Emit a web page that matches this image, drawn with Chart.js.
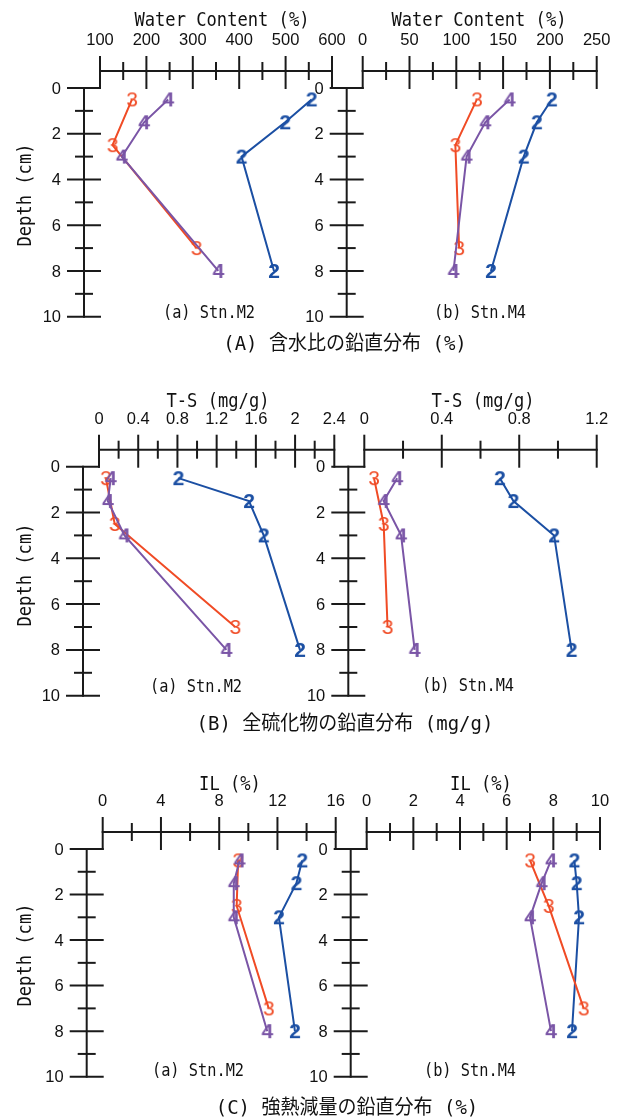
<!DOCTYPE html>
<html>
<head>
<meta charset="utf-8">
<script src="https://cdn.jsdelivr.net/npm/chart.js@4.4.1/dist/chart.umd.min.js"></script>
<style>
  html, body { margin: 0; padding: 0; background: #fff; }
  #page { position: relative; width: 622px; height: 1120px; overflow: hidden; background: #fff; }
  #page canvas { position: absolute; left: 0; top: 0; }
  .lbl { position: absolute; transform: translate(-50%, -50%); white-space: nowrap; color: #111;
         font-family: "DejaVu Sans Mono", "Noto Sans CJK JP", monospace; line-height: 1; }
  .axt { font-size: 19px; transform: translate(-50%, -50%) scaleX(0.9); }
  .cap { font-size: 18px; transform: translate(-50%, -50%) scaleX(0.85); }
  .row { font-size: 20px; transform: translate(-50%, -50%) scaleX(0.95); }
  .ytl { transform: translate(-50%, -50%) rotate(-90deg) scaleX(0.9); }
</style>
</head>
<body>
<div id="page"></div>
<script>
// Sampling depths (cm): stations 2 and 4 share one set, station 3 has its own
const depthMain = [0.5, 1.5, 3, 8];
const depthSt3 = [0.5, 2.5, 7];

// Water content (%)
const wcM2_st2 = [556, 499, 405, 475];
const wcM2_st3 = [169, 127, 308];
const wcM2_st4 = [247, 195, 147, 355];
const wcM4_st2 = [202, 186, 172, 137];
const wcM4_st3 = [122, 99, 103];
const wcM4_st4 = [157, 131, 111, 97];

// Total sulfide T-S (mg/g)
const tsM2_st2 = [0.81, 1.53, 1.68, 2.05];
const tsM2_st3 = [0.07, 0.16, 1.39];
const tsM2_st4 = [0.12, 0.09, 0.26, 1.30];
const tsM4_st2 = [0.70, 0.77, 0.98, 1.07];
const tsM4_st3 = [0.05, 0.10, 0.12];
const tsM4_st4 = [0.17, 0.10, 0.19, 0.26];

// Ignition loss IL (%)
const ilM2_st2 = [13.7, 13.3, 12.1, 13.2];
const ilM2_st3 = [9.3, 9.2, 11.4];
const ilM2_st4 = [9.4, 9.0, 9.0, 11.3];
const ilM4_st2 = [8.9, 9.0, 9.1, 8.8];
const ilM4_st3 = [7.0, 7.8, 9.3];
const ilM4_st4 = [7.9, 7.5, 7.0, 7.9];

// Tick labels
const wcM2Ticks = ['100', '200', '300', '400', '500', '600'];
const wcM4Ticks = ['0', '50', '100', '150', '200', '250'];
const tsM2Ticks = ['0', '0.4', '0.8', '1.2', '1.6', '2', '2.4'];
const tsM4Ticks = ['0', '0.4', '0.8', '1.2'];
const ilM2Ticks = ['0', '4', '8', '12', '16'];
const ilM4Ticks = ['0', '2', '4', '6', '8', '10'];
const depthTicks = ['0', '2', '4', '6', '8', '10'];

const stationColors = { '2': '#1b4fa3', '3': '#f04b25', '4': '#7a55a6' };

const W = 622, H = 1120;
const page = document.getElementById('page');

// Digit glyph used as the point marker of each station
function digitMarker(ch, color, weight) {
  const c = document.createElement('canvas');
  c.width = 18; c.height = 24;
  const g = c.getContext('2d');
  g.font = weight + ' 21px "Liberation Sans", Arial, sans-serif';
  g.fillStyle = color;
  g.textAlign = 'center';
  g.textBaseline = 'middle';
  g.fillText(ch, 9, 13);
  return c;
}
const markers = {
  '2': digitMarker('2', stationColors['2'], 'bold'),
  '3': digitMarker('3', stationColors['3'], 'normal'),
  '4': digitMarker('4', stationColors['4'], 'bold')
};

// Axes drawn offset from the plot: value axis on top, depth axis on the left,
// with ticks crossing the axis lines
const panelAxes = {
  id: 'panelAxes',
  afterDraw(chart) {
    const o = chart.options.plugins.panelAxes;
    const { ctx, chartArea: a, scales } = chart;
    const xs = scales.x, ys = scales.y;
    const ax = a.top - 17;    // y position of the value axis line
    const ay = a.left - 16;   // x position of the depth axis line
    ctx.save();
    ctx.strokeStyle = '#1a1a1a';
    ctx.lineWidth = 2;
    ctx.lineCap = 'square';
    const seg = (x1, y1, x2, y2) => { ctx.beginPath(); ctx.moveTo(x1, y1); ctx.lineTo(x2, y2); ctx.stroke(); };

    // value axis
    seg(a.left, ax, a.right, ax);
    const xv = o.xTicks.map(Number);
    xv.forEach(v => { const p = xs.getPixelForValue(v); seg(p, ax - 14, p, a.top); });
    for (let i = 0; i < xv.length - 1; i++) {
      const p = xs.getPixelForValue((xv[i] + xv[i + 1]) / 2);
      seg(p, ax - 8, p, ax + 8);
    }

    // depth axis
    seg(ay, a.top, ay, a.bottom);
    const yv = depthTicks.map(Number);
    yv.forEach(v => { const p = ys.getPixelForValue(v); seg(ay - 16, p, a.left, p); });
    for (let i = 0; i < yv.length - 1; i++) {
      const p = ys.getPixelForValue((yv[i] + yv[i + 1]) / 2);
      seg(ay - 8, p, ay + 8, p);
    }

    // tick labels
    ctx.fillStyle = '#111';
    ctx.font = '16.5px "Liberation Sans", Arial, sans-serif';
    ctx.textBaseline = 'middle';
    ctx.textAlign = 'center';
    o.xTicks.forEach(t => ctx.fillText(t, xs.getPixelForValue(Number(t)), ax - 30.5));
    ctx.textAlign = 'right';
    depthTicks.forEach(t => ctx.fillText(t, ay - 23, ys.getPixelForValue(Number(t)) + 1));
    ctx.restore();
  }
};

const panels = [
  { L: 100,   R: 332,   T: 88,    B: 316.7,  min: 100, max: 600, ticks: wcM2Ticks, data: { '2': wcM2_st2, '3': wcM2_st3, '4': wcM2_st4 } },
  { L: 362.7, R: 596.7, T: 88,    B: 316.7,  min: 0,   max: 250, ticks: wcM4Ticks, data: { '2': wcM4_st2, '3': wcM4_st3, '4': wcM4_st4 } },
  { L: 99,    R: 334.3, T: 466.7, B: 695.7,  min: 0,   max: 2.4, ticks: tsM2Ticks, data: { '2': tsM2_st2, '3': tsM2_st3, '4': tsM2_st4 } },
  { L: 364.3, R: 596.7, T: 466.7, B: 695.7,  min: 0,   max: 1.2, ticks: tsM4Ticks, data: { '2': tsM4_st2, '3': tsM4_st3, '4': tsM4_st4 } },
  { L: 102.7, R: 335.7, T: 849,   B: 1076.7, min: 0,   max: 16,  ticks: ilM2Ticks, data: { '2': ilM2_st2, '3': ilM2_st3, '4': ilM2_st4 } },
  { L: 366.7, R: 600,   T: 849,   B: 1076.7, min: 0,   max: 10,  ticks: ilM4Ticks, data: { '2': ilM4_st2, '3': ilM4_st3, '4': ilM4_st4 } }
];

panels.forEach(p => {
  const cv = document.createElement('canvas');
  cv.width = W; cv.height = H;
  cv.style.width = W + 'px'; cv.style.height = H + 'px';
  page.appendChild(cv);

  // station 4 first so it is drawn on top
  const order = ['4', '3', '2'];
  const datasets = order.map(s => {
    const depths = s === '3' ? depthSt3 : depthMain;
    return {
      label: 'St.' + s,
      data: p.data[s].map((v, i) => ({ x: v, y: depths[i] })),
      showLine: true,
      borderColor: stationColors[s],
      backgroundColor: stationColors[s],
      borderWidth: 2,
      pointStyle: markers[s],
      pointRadius: 6,
      pointHoverRadius: 6,
      clip: false
    };
  });

  new Chart(cv, {
    type: 'scatter',
    data: { datasets },
    options: {
      responsive: false,
      animation: false,
      devicePixelRatio: 1,
      events: [],
      layout: { padding: { left: p.L, top: p.T, right: W - p.R, bottom: H - p.B } },
      scales: {
        x: { type: 'linear', display: false, min: p.min, max: p.max },
        y: { type: 'linear', display: false, min: 0, max: 10, reverse: true }
      },
      plugins: {
        legend: { display: false },
        tooltip: { enabled: false },
        panelAxes: { xTicks: p.ticks }
      }
    },
    plugins: [panelAxes]
  });
});

// Titles and captions
const texts = [
  { t: 'Water Content (%)', x: 222, y: 18.5, c: 'axt' },
  { t: 'Water Content (%)', x: 478.5, y: 18.5, c: 'axt' },
  { t: 'T-S (mg/g)', x: 218, y: 400, c: 'axt' },
  { t: 'T-S (mg/g)', x: 483, y: 400, c: 'axt' },
  { t: 'IL (%)', x: 230, y: 783, c: 'axt' },
  { t: 'IL (%)', x: 481, y: 783, c: 'axt' },
  { t: 'Depth (cm)', x: 24, y: 195, c: 'axt ytl' },
  { t: 'Depth (cm)', x: 24, y: 575, c: 'axt ytl' },
  { t: 'Depth (cm)', x: 24, y: 955, c: 'axt ytl' },
  { t: '(a) Stn.M2', x: 209, y: 312, c: 'cap' },
  { t: '(b) Stn.M4', x: 480, y: 312, c: 'cap' },
  { t: '(a) Stn.M2', x: 196, y: 686, c: 'cap' },
  { t: '(b) Stn.M4', x: 468, y: 685, c: 'cap' },
  { t: '(a) Stn.M2', x: 198, y: 1070, c: 'cap' },
  { t: '(b) Stn.M4', x: 470, y: 1070, c: 'cap' },
  { t: '(A) 含水比の鉛直分布 (%)', x: 344.5, y: 343, c: 'row' },
  { t: '(B) 全硫化物の鉛直分布 (mg/g)', x: 344.5, y: 723, c: 'row' },
  { t: '(C) 強熱減量の鉛直分布 (%)', x: 347, y: 1107, c: 'row' }
];
texts.forEach(d => {
  const el = document.createElement('div');
  el.className = 'lbl ' + d.c;
  el.textContent = d.t;
  el.style.left = d.x + 'px';
  el.style.top = d.y + 'px';
  page.appendChild(el);
});
</script>
</body>
</html>
